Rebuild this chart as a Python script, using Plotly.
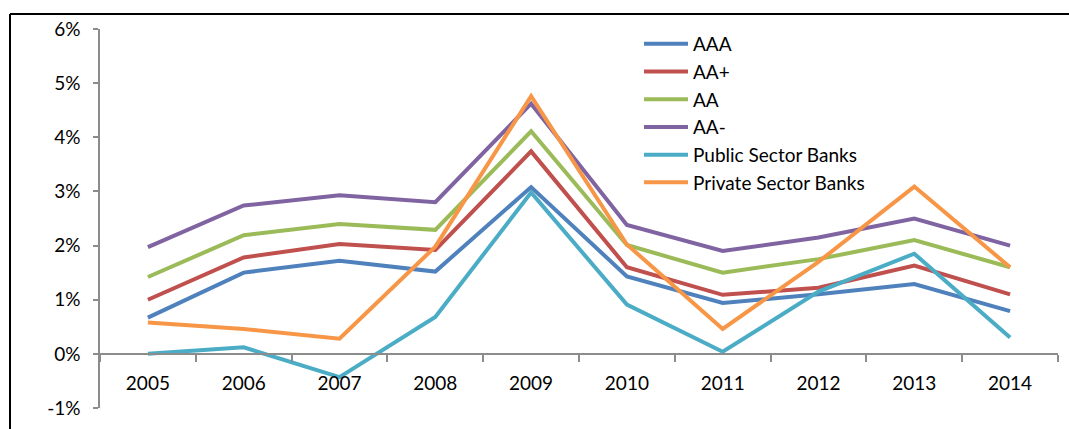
import plotly.graph_objects as go

years = ["2005", "2006", "2007", "2008", "2009", "2010", "2011", "2012", "2013", "2014"]
aaa = [0.67, 1.50, 1.72, 1.52, 3.08, 1.43, 0.94, 1.10, 1.29, 0.79]
aa_plus = [1.00, 1.78, 2.03, 1.92, 3.74, 1.60, 1.09, 1.22, 1.63, 1.10]
aa = [1.42, 2.19, 2.40, 2.29, 4.11, 2.01, 1.50, 1.75, 2.10, 1.60]
aa_minus = [1.97, 2.74, 2.93, 2.80, 4.62, 2.38, 1.90, 2.15, 2.50, 2.00]
public_banks = [0.00, 0.12, -0.43, 0.68, 2.98, 0.91, 0.04, 1.15, 1.85, 0.30]
private_banks = [0.58, 0.46, 0.28, 1.98, 4.76, 2.02, 0.46, 1.70, 3.09, 1.60]

y_tick_values = [-1, 0, 1, 2, 3, 4, 5, 6]
y_tick_labels = ["-1%", "0%", "1%", "2%", "3%", "4%", "5%", "6%"]

series = [
    ("AAA", aaa, "#4F81BD"),
    ("AA+", aa_plus, "#C0504D"),
    ("AA", aa, "#9BBB59"),
    ("AA-", aa_minus, "#8064A2"),
    ("Public Sector Banks", public_banks, "#4BACC6"),
    ("Private Sector Banks", private_banks, "#F79646"),
]

fig = go.Figure()
for name, vals, color in series:
    fig.add_trace(go.Scatter(
        x=years, y=vals, name=name, mode="lines",
        line=dict(color=color, width=4),
    ))

W, H = 1069, 429
ml, mr, mt, mb = 100, 11, 29, 21
pw = W - ml - mr
ph = H - mt - mb

family = "Lato, 'Open Sans', sans-serif"
font = dict(family=family, size=19, color="#000000")

fig.update_layout(
    width=W, height=H,
    margin=dict(l=ml, r=mr, t=mt, b=mb, pad=0, autoexpand=False),
    paper_bgcolor="white", plot_bgcolor="white",
    font=font,
    showlegend=True,
    legend=dict(
        x=(639 - ml) / pw, y=1 - (25 - mt) / ph,
        xanchor="left", yanchor="top",
        bgcolor="rgba(0,0,0,0)", borderwidth=0,
        font=dict(family=family, size=19, color="#000000"),
        itemwidth=44,
    ),
    xaxis=dict(
        type="category", range=[-0.5, 9.5],
        anchor="free", position=1 / 7,
        showline=True, linecolor="#8C8C8C", linewidth=1.5,
        ticks="outside", ticklen=7, tickcolor="#8C8C8C", tickwidth=1.5,
        tickson="boundaries",
        showgrid=False, zeroline=False, automargin=False,
        tickfont=font, ticklabelstandoff=13,
    ),
    yaxis=dict(
        range=[-1, 6], tickmode="array",
        tickvals=y_tick_values, ticktext=y_tick_labels,
        showline=True, linecolor="#8C8C8C", linewidth=1.5,
        ticks="outside", ticklen=5, tickcolor="#8C8C8C", tickwidth=1.5,
        showgrid=False, zeroline=False, automargin=False,
        tickfont=font, ticklabelstandoff=9,
    ),
)

# outer frame (left and top edges of the Excel chart border)
fx = (10 - ml) / pw
fy = 1 + (mt - 14) / ph
fig.add_shape(type="line", xref="paper", yref="paper", x0=fx, x1=fx, y0=fy, y1=-0.2,
              line=dict(color="black", width=2))
fig.add_shape(type="line", xref="paper", yref="paper", x0=fx, x1=1.1, y0=fy, y1=fy,
              line=dict(color="black", width=2))

fig.write_html(
    "out.html",
    config={"displayModeBar": False},
    post_script="document.body.style.margin='0px';document.body.style.overflow='hidden';",
)
